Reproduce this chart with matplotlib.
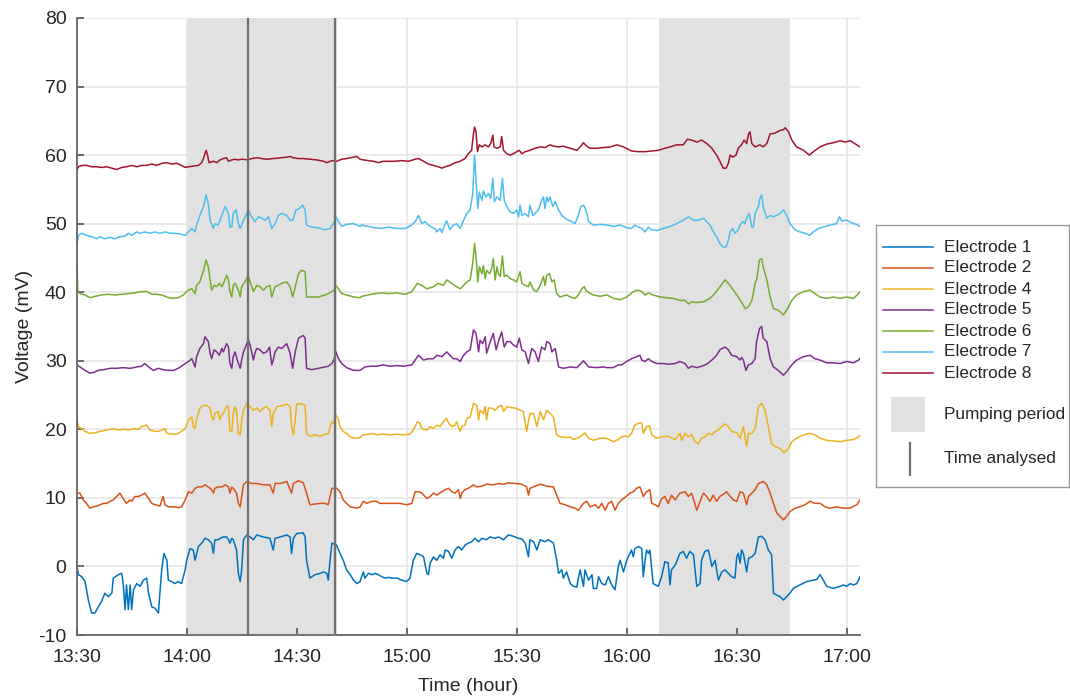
import matplotlib
matplotlib.use("Agg")
import matplotlib.pyplot as plt
from matplotlib.patches import Rectangle

plt.rcParams['font.family'] = ['Liberation Sans', 'DejaVu Sans']
plt.rcParams['axes.unicode_minus'] = False

# time axis in minutes after 13:30
tick_min = [0, 30, 60, 90, 120, 150, 180, 210]
tick_lab = ['13:30', '14:00', '14:30', '15:00', '15:30', '16:00', '16:30', '17:00']

pumping = [(30.0, 71.0), (158.8, 194.4)]
analysed = [46.5, 70.4]

names = ['Electrode 1', 'Electrode 2', 'Electrode 4', 'Electrode 5',
         'Electrode 6', 'Electrode 7', 'Electrode 8']
colors = ['#0072BD', '#D95319', '#EDB120', '#7E2F8E', '#77AC30', '#4DBEEE', '#A2142F']

# (minute, mV) samples for each electrode
e1 = [(0, 0.1), (0.4, -1.2), (1.3, -1.5), (2.2, -2.2), (3.1, -4.9), (4.0, -6.8), (4.9, -6.8), (5.8, -5.9),
      (6.7, -5.1), (7.6, -3.9), (8.5, -4.4), (9.5, -3.9), (9.9, -1.7), (11.3, -1.2), (12.2, -1.0), (12.6, -2.5),
      (13.1, -6.3), (13.5, -2.7), (14.0, -6.3), (14.5, -2.7), (14.9, -6.3), (15.4, -3.4), (16.3, -2.5),
      (17.2, -2.9), (18.1, -2.0), (19.0, -1.7), (19.5, -3.9), (20.4, -5.9), (21.3, -6.1), (22.2, -6.8),
      (22.6, -3.9), (23.1, -0.5), (23.7, 1.9), (24.5, 0.9), (24.9, -2.0), (25.8, -2.2), (26.7, -2.5),
      (27.6, -2.2), (28.5, -2.5), (29.5, -0.5), (29.9, 0.9), (30.8, 2.6), (31.7, 2.4), (32.2, 0.9), (33.1, 2.9),
      (34.0, 3.4), (34.9, 4.1), (35.8, 3.9), (36.7, 3.4), (37.2, 1.9), (37.6, 3.9), (38.5, 3.9), (39.0, 4.1),
      (39.9, 4.3), (40.8, 4.3), (41.3, 3.9), (41.7, 3.4), (42.2, 4.1), (42.6, 3.9), (43.5, 2.4), (44.0, -1.0),
      (44.5, -2.2), (44.9, -0.5), (45.4, 3.9), (46.3, 4.6), (47.2, 4.3), (48.1, 3.9), (49.0, 4.6), (50.8, 4.3),
      (52.6, 4.1), (53.5, 2.4), (54.0, 4.1), (55.4, 4.3), (57.2, 4.6), (58.1, 4.3), (58.5, 1.9), (59.0, 4.1),
      (59.9, 4.8), (61.7, 4.9), (62.2, 4.3), (62.6, 0.9), (63.5, -1.7), (64.9, -1.2), (66.3, -1.0), (67.2, -0.8),
      (68.1, -1.0), (68.5, -2.0), (69.0, 0.9), (69.5, 3.4), (70.8, 3.1), (71.7, 1.9), (72.6, 0.9), (73.5, -0.5),
      (74.5, -1.2), (75.4, -2.0), (76.3, -2.5), (77.2, -2.2), (77.6, -1.5), (78.1, -0.8), (78.5, -1.7),
      (79.5, -1.0), (80.4, -1.2), (81.3, -1.0), (82.2, -1.2), (83.1, -1.5), (84.0, -1.7), (84.9, -1.6),
      (85.8, -1.7), (87.2, -1.7), (88.5, -2.0), (89.9, -2.2), (90.8, -1.7), (91.7, 0.9), (92.6, 1.9), (93.5, 1.7),
      (94.5, 1.4), (95.4, -1.0), (95.8, -1.2), (96.3, 0.5), (97.2, 1.4), (98.1, 0.9), (99.0, 1.7), (99.9, 1.2),
      (100.4, 2.4), (101.3, 2.2), (102.2, 1.2), (103.1, 2.4), (104.0, 2.9), (104.9, 2.4), (105.8, 3.1),
      (106.7, 3.4), (107.6, 3.6), (108.5, 4.1), (109.5, 3.6), (110.4, 4.1), (111.7, 3.9), (112.6, 4.3),
      (114.0, 4.1), (114.9, 4.3), (116.3, 3.9), (117.6, 4.6), (119.0, 4.4), (120.4, 4.1), (121.3, 4.0),
      (122.2, 3.4), (123.1, 1.4), (123.5, 3.9), (124.5, 3.6), (125.4, 2.4), (126.3, 3.9), (127.6, 3.6),
      (128.5, 3.9), (129.9, 3.4), (130.8, 0.9), (131.3, -1.0), (132.2, -0.5), (132.6, -1.7), (133.5, -0.8),
      (134.5, -2.5), (135.4, -2.9), (136.3, -3.0), (136.7, -1.7), (137.2, -0.5), (138.1, -2.9), (138.5, -0.5),
      (139.5, -2.0), (140.4, -1.2), (140.8, -3.2), (141.7, -3.2), (142.2, -1.5), (143.1, -2.5), (144.0, -2.7),
      (144.9, -1.5), (145.8, -2.7), (146.7, -3.4), (147.6, 0.0), (148.1, 0.9), (149.0, -0.8), (149.9, 0.9),
      (150.3, 1.4), (151.2, 2.4), (151.7, 1.4), (152.1, 2.6), (153.1, 2.9), (154.0, 2.6), (154.4, -1.5),
      (154.9, 0.9), (155.3, 2.4), (155.8, 1.9), (156.2, 2.4), (157.1, -2.5), (158.5, -2.9), (159.4, -1.5),
      (160.3, 0.7), (161.2, 0.5), (161.7, -2.7), (162.1, -0.5), (163.1, 0.2), (163.5, 0.7), (164.4, 1.9),
      (165.3, 2.2), (166.2, 1.2), (167.1, 2.2), (168.1, 1.7), (169.0, -2.9), (169.9, -2.5), (170.3, 0.9),
      (171.2, 2.2), (172.1, 2.4), (172.6, 1.4), (173.1, 0.0), (174.0, 0.9), (174.4, -0.5), (174.9, -2.0),
      (175.8, -0.8), (176.7, -0.5), (177.6, -1.0), (178.5, -1.5), (179.4, -1.7), (179.9, 1.4), (180.3, 1.9),
      (180.8, 0.5), (181.2, 2.4), (181.7, 1.9), (182.6, -0.8), (183.1, 1.2), (184.0, 1.4), (184.9, 1.9),
      (185.8, 4.3), (186.7, 4.4), (187.6, 3.9), (188.5, 2.4), (189.4, 1.7), (189.9, -3.9), (190.8, -4.2),
      (191.7, -4.4), (192.6, -4.9), (193.5, -4.4), (194.4, -3.9), (195.3, -3.2), (197.1, -2.7), (199.0, -2.2),
      (200.8, -2.0), (201.7, -1.9), (202.6, -1.2), (203.5, -2.0), (204.4, -2.9), (206.2, -3.2), (208.1, -2.9),
      (209.0, -2.7), (209.9, -2.9), (210.8, -2.5), (211.7, -2.7), (212.6, -2.5), (213.5, -1.5)]

e2 = [(0, 10.7), (0.8, 10.7), (1.7, 9.7), (2.6, 9.2), (3.5, 8.5), (4.5, 8.7), (5.4, 8.8), (6.3, 9.0), (7.2, 9.2),
      (8.1, 9.2), (9.0, 9.5), (9.9, 9.7), (10.8, 10.2), (11.7, 10.7), (12.6, 9.9), (13.5, 9.2), (14.5, 9.7),
      (14.9, 9.5), (15.8, 10.2), (16.7, 10.2), (17.6, 10.4), (18.5, 10.7), (19.5, 9.9), (20.4, 9.2), (21.3, 9.0),
      (22.6, 8.8), (23.5, 10.2), (24.0, 9.0), (24.9, 8.7), (26.3, 8.7), (27.6, 8.6), (28.5, 8.7), (29.5, 9.7),
      (30.4, 10.9), (31.3, 10.7), (32.2, 11.4), (33.1, 11.6), (34.0, 11.6), (34.9, 11.9), (35.8, 11.6),
      (36.7, 11.2), (37.2, 10.7), (37.6, 11.4), (38.5, 11.6), (39.5, 11.6), (40.4, 11.9), (41.3, 11.6),
      (41.7, 10.7), (42.2, 11.6), (42.6, 11.4), (43.5, 10.7), (44.0, 9.2), (44.5, 8.7), (44.9, 10.2),
      (45.4, 11.9), (46.3, 12.4), (47.6, 12.1), (49.0, 12.1), (50.8, 11.9), (52.6, 11.9), (53.5, 10.7),
      (54.0, 12.1), (55.4, 12.1), (57.2, 12.4), (58.5, 10.7), (59.0, 12.1), (60.4, 12.5), (61.7, 12.2),
      (62.6, 10.7), (63.5, 9.0), (64.9, 9.1), (66.3, 9.2), (67.6, 9.2), (68.5, 9.0), (69.5, 11.4), (70.8, 11.4),
      (71.7, 10.9), (72.6, 9.7), (73.5, 9.2), (74.5, 8.7), (76.3, 8.5), (77.2, 8.7), (78.1, 9.5), (79.0, 9.2),
      (80.4, 9.5), (81.7, 9.5), (82.6, 9.2), (84.5, 9.2), (86.3, 9.2), (88.1, 9.2), (89.9, 9.0), (91.3, 9.2),
      (92.2, 10.9), (93.1, 10.9), (94.0, 10.7), (95.4, 9.9), (96.3, 10.2), (97.2, 10.7), (98.1, 10.4),
      (99.5, 10.9), (100.4, 11.2), (101.3, 11.4), (102.2, 10.9), (103.1, 10.7), (104.0, 11.2), (104.5, 9.9),
      (104.9, 10.7), (105.8, 11.2), (106.7, 11.4), (108.1, 11.9), (109.0, 11.6), (110.4, 11.7), (111.7, 12.0),
      (113.5, 11.9), (114.9, 12.1), (116.3, 12.0), (117.6, 12.2), (119.5, 12.1), (121.3, 12.0), (122.6, 11.6),
      (123.1, 10.4), (123.5, 11.4), (124.9, 11.7), (126.3, 12.0), (128.1, 11.7), (129.9, 11.6), (130.8, 10.4),
      (131.7, 9.2), (133.1, 9.0), (134.5, 8.7), (135.8, 8.5), (136.7, 8.2), (138.1, 9.2), (139.0, 9.5),
      (139.9, 8.7), (141.3, 9.0), (142.2, 8.5), (143.1, 9.2), (144.0, 8.2), (144.9, 9.2), (145.8, 9.5),
      (146.7, 8.2), (147.6, 9.2), (148.5, 9.7), (149.5, 10.1), (150.8, 10.7), (151.7, 10.9), (152.6, 11.4),
      (153.5, 11.6), (154.4, 10.2), (155.3, 10.9), (156.2, 11.2), (156.7, 9.2), (157.6, 9.0), (158.5, 8.7),
      (159.4, 9.9), (160.3, 10.2), (161.2, 9.2), (162.1, 10.4), (163.1, 9.7), (164.4, 10.7), (165.8, 10.9),
      (166.7, 10.2), (167.6, 10.7), (169.0, 8.2), (169.9, 9.5), (170.8, 10.7), (171.7, 10.2), (172.6, 9.5),
      (173.5, 10.4), (174.4, 9.5), (175.3, 10.2), (176.7, 10.7), (177.1, 10.9), (178.1, 10.2), (179.0, 9.7),
      (179.9, 9.5), (180.8, 10.9), (181.7, 10.7), (182.6, 9.0), (183.1, 10.2), (184.0, 10.7), (184.9, 11.2),
      (185.8, 12.1), (187.1, 12.4), (188.1, 11.9), (189.0, 10.7), (189.9, 9.2), (190.8, 7.8), (191.7, 7.3),
      (192.6, 6.8), (193.5, 7.3), (194.4, 8.0), (195.8, 8.5), (197.1, 8.7), (198.5, 9.0), (199.9, 9.5),
      (201.2, 9.2), (202.6, 9.2), (204.0, 8.7), (205.3, 8.5), (207.1, 8.7), (209.0, 8.5), (210.8, 8.5),
      (212.6, 9.0), (213.5, 9.7)]

e4 = [(0, 21.4), (0.4, 20.4), (1.3, 20.1), (2.2, 19.7), (3.5, 19.4), (4.9, 19.5), (6.3, 19.7), (8.1, 19.9),
      (9.9, 20.1), (11.3, 19.9), (12.6, 20.0), (14.0, 19.9), (15.4, 20.1), (16.7, 20.0), (17.6, 20.4),
      (19.0, 20.6), (19.9, 19.9), (21.3, 19.7), (22.2, 19.7), (23.1, 19.9), (24.0, 20.1), (24.5, 19.4),
      (25.8, 19.3), (27.2, 19.3), (28.5, 19.7), (29.5, 20.1), (30.4, 21.4), (31.3, 21.8), (31.7, 20.4),
      (32.2, 20.1), (32.6, 21.4), (33.5, 23.1), (34.5, 23.5), (35.4, 23.5), (36.3, 23.1), (36.7, 21.8),
      (37.2, 21.4), (37.6, 22.3), (38.5, 22.6), (39.0, 21.4), (39.5, 22.1), (39.9, 22.3), (40.8, 23.4),
      (41.3, 23.3), (41.7, 19.7), (42.2, 19.7), (42.6, 22.3), (43.1, 23.3), (43.5, 22.8), (44.0, 19.4),
      (44.5, 19.2), (44.9, 21.4), (45.4, 22.8), (46.3, 23.8), (47.2, 23.3), (48.1, 22.8), (49.0, 23.1),
      (49.9, 22.6), (50.8, 23.1), (51.7, 23.3), (52.6, 22.8), (53.1, 20.4), (53.5, 22.3), (54.5, 23.3),
      (55.4, 23.4), (56.3, 23.5), (57.2, 23.7), (58.1, 23.3), (58.5, 20.4), (59.0, 19.2), (59.5, 21.4),
      (59.9, 23.7), (61.2, 23.7), (62.2, 23.5), (62.6, 19.4), (63.5, 19.0), (64.9, 19.2), (66.3, 19.0),
      (67.6, 19.3), (68.5, 19.3), (69.0, 20.4), (69.5, 21.1), (69.9, 20.9), (70.6, 22.1), (71.3, 21.4),
      (71.7, 20.4), (72.6, 19.7), (73.5, 19.4), (74.5, 18.9), (75.8, 18.7), (77.2, 18.8), (78.1, 19.2),
      (79.9, 19.3), (80.8, 19.4), (81.7, 19.2), (83.5, 19.3), (85.4, 19.2), (87.2, 19.3), (89.0, 19.2),
      (90.8, 19.3), (91.7, 19.9), (92.8, 21.1), (93.5, 20.9), (94.0, 20.1), (95.4, 19.9), (96.3, 20.4),
      (97.2, 20.1), (98.1, 20.6), (99.0, 20.4), (99.9, 21.1), (100.8, 21.6), (101.3, 20.9), (102.2, 20.4),
      (103.1, 20.6), (103.5, 21.1), (104.5, 19.7), (104.9, 20.4), (105.8, 20.6), (106.3, 21.6), (107.2, 21.8),
      (108.1, 23.8), (109.0, 23.5), (109.5, 21.4), (109.9, 22.8), (110.8, 22.3), (111.3, 23.3), (111.7, 21.4),
      (112.2, 23.1), (113.1, 23.1), (114.0, 22.8), (114.9, 23.3), (115.8, 23.5), (116.3, 22.6), (117.2, 23.3),
      (118.1, 23.2), (119.5, 23.1), (120.8, 22.8), (121.7, 22.6), (122.6, 19.7), (123.5, 22.3), (124.5, 22.3),
      (125.4, 20.4), (126.3, 22.6), (127.2, 21.4), (128.1, 22.8), (129.0, 22.3), (129.9, 21.8), (130.8, 19.2),
      (131.7, 18.9), (132.6, 18.9), (133.5, 18.8), (134.5, 18.9), (135.4, 18.5), (137.2, 18.9), (138.5, 19.5),
      (139.5, 18.7), (140.8, 18.4), (142.6, 18.7), (144.4, 18.7), (146.2, 18.2), (147.6, 18.5), (148.5, 18.9),
      (149.4, 19.0), (150.3, 18.9), (151.2, 19.4), (152.1, 20.6), (153.1, 20.9), (154.0, 20.9), (154.4, 19.4),
      (155.3, 20.4), (156.1, 20.5), (156.7, 19.2), (158.1, 18.7), (159.4, 18.9), (161.2, 19.0), (163.1, 18.5),
      (164.4, 19.4), (164.9, 18.4), (165.8, 19.4), (166.7, 18.9), (167.6, 19.2), (168.5, 18.2), (169.4, 17.9),
      (170.3, 18.7), (171.2, 18.9), (172.1, 19.4), (173.1, 19.2), (174.0, 19.7), (174.9, 19.9), (175.8, 20.4),
      (176.7, 20.8), (177.6, 20.4), (178.5, 19.7), (179.9, 19.5), (180.8, 18.7), (181.7, 20.4), (182.6, 17.5),
      (183.1, 19.4), (184.0, 19.4), (184.9, 20.1), (185.8, 23.3), (186.7, 23.8), (187.6, 22.8), (188.5, 20.4),
      (189.4, 17.9), (190.3, 17.5), (191.7, 17.2), (192.8, 16.6), (194.0, 17.2), (194.9, 18.2), (196.2, 18.7),
      (198.1, 19.2), (199.9, 19.4), (201.2, 19.2), (202.6, 18.7), (204.4, 18.4), (206.2, 18.3), (208.1, 18.2),
      (209.9, 18.4), (211.7, 18.5), (213.1, 18.9), (214.0, 19.4)]

e5 = [(0, 29.4), (0.8, 29.1), (2.2, 28.6), (3.5, 28.2), (4.5, 28.3), (5.8, 28.6), (7.2, 28.7), (9.0, 28.9),
      (10.8, 28.9), (12.6, 29.0), (14.5, 28.9), (16.3, 29.1), (17.6, 29.2), (18.5, 29.6), (19.5, 29.1),
      (20.8, 28.6), (22.2, 28.9), (23.5, 28.7), (24.9, 28.6), (26.3, 28.6), (27.6, 28.9), (29.0, 29.4),
      (30.4, 29.9), (31.3, 30.3), (32.2, 29.1), (32.6, 30.6), (33.5, 31.8), (34.5, 32.5), (34.9, 33.5),
      (35.8, 32.8), (36.3, 31.1), (36.7, 30.3), (37.4, 31.6), (38.1, 31.3), (38.8, 30.8), (39.5, 31.8),
      (39.9, 31.3), (40.8, 32.5), (41.3, 32.0), (41.7, 29.6), (42.2, 28.9), (42.6, 30.6), (43.1, 31.3),
      (43.7, 30.1), (44.5, 28.9), (44.9, 30.1), (45.4, 31.3), (46.3, 32.5), (46.7, 33.1), (47.2, 32.3),
      (48.1, 30.1), (48.5, 31.1), (49.0, 31.8), (49.9, 31.6), (50.8, 31.1), (51.7, 31.3), (52.5, 32.0),
      (53.1, 29.4), (53.5, 30.1), (54.0, 31.3), (54.9, 32.0), (55.8, 31.8), (57.2, 32.5), (58.1, 31.1),
      (58.8, 28.9), (59.5, 31.3), (60.4, 33.3), (61.7, 33.7), (62.2, 33.3), (62.6, 28.9), (64.0, 28.7),
      (65.8, 28.9), (67.6, 29.1), (68.5, 29.2), (69.5, 29.6), (70.1, 30.2), (70.6, 31.3), (71.3, 30.3),
      (72.2, 29.6), (73.5, 29.0), (75.4, 28.6), (77.2, 28.6), (78.5, 29.1), (79.9, 29.2), (81.7, 29.2),
      (83.5, 29.4), (85.4, 29.2), (87.2, 29.3), (89.0, 29.2), (91.3, 29.4), (92.2, 30.1), (93.1, 30.8),
      (93.5, 30.6), (94.5, 30.1), (95.8, 30.3), (97.2, 30.3), (98.1, 30.8), (99.5, 30.6), (100.8, 31.3),
      (101.7, 30.8), (102.6, 30.3), (103.5, 30.3), (104.5, 29.9), (105.4, 30.8), (106.3, 31.3), (107.2, 31.6),
      (108.1, 34.5), (108.8, 34.0), (109.5, 31.3), (109.9, 33.0), (110.6, 32.5), (111.3, 33.5), (111.7, 31.1),
      (112.5, 32.5), (113.5, 34.0), (114.3, 31.6), (114.9, 32.8), (115.8, 34.2), (116.5, 32.0), (117.2, 32.8),
      (118.1, 32.8), (119.0, 32.3), (119.9, 32.0), (120.6, 33.3), (121.3, 31.6), (122.2, 31.3), (123.1, 29.6),
      (123.5, 30.6), (124.0, 31.8), (124.9, 31.3), (125.8, 29.9), (126.7, 32.0), (127.6, 31.6), (128.1, 32.8),
      (129.0, 32.5), (129.5, 31.3), (130.4, 31.8), (131.3, 29.1), (132.6, 28.9), (134.5, 29.1), (136.3, 29.0),
      (138.1, 30.0), (139.5, 29.1), (141.7, 29.0), (143.5, 29.1), (144.4, 29.0), (146.2, 29.0), (147.6, 29.4),
      (148.5, 29.4), (149.9, 29.9), (151.2, 30.3), (152.6, 30.6), (153.5, 30.8), (154.0, 30.1), (154.9, 29.9),
      (155.8, 30.3), (156.7, 29.9), (158.1, 29.6), (159.9, 29.6), (161.2, 29.5), (163.1, 29.6), (164.4, 29.9),
      (165.8, 29.6), (166.7, 28.9), (167.6, 29.2), (169.0, 29.0), (170.3, 29.2), (171.7, 29.5), (173.1, 30.1),
      (174.4, 30.8), (175.3, 31.6), (176.7, 32.0), (177.6, 31.6), (178.5, 30.8), (179.9, 30.6), (180.8, 30.1),
      (181.2, 30.5), (181.7, 30.1), (182.4, 28.6), (183.1, 29.4), (184.0, 29.6), (184.9, 30.3), (185.3, 32.8),
      (186.1, 34.7), (186.7, 35.0), (187.1, 33.3), (188.1, 32.8), (189.0, 30.3), (189.9, 29.1), (191.2, 28.6),
      (192.6, 27.9), (193.5, 28.4), (194.9, 29.4), (196.2, 30.1), (198.1, 30.6), (199.9, 30.8), (201.2, 30.3),
      (202.6, 30.1), (204.4, 29.7), (206.2, 29.7), (208.1, 29.6), (209.9, 29.9), (211.7, 29.7), (213.1, 30.1),
      (214.0, 30.7)]

e6 = [(0, 44.5), (0.2, 40.1), (0.8, 39.8), (2.2, 39.6), (3.5, 39.2), (4.9, 39.4), (6.7, 39.6), (8.5, 39.7),
      (10.4, 39.6), (12.2, 39.7), (14.0, 39.8), (15.8, 39.9), (17.6, 40.1), (19.0, 40.1), (20.4, 39.7),
      (21.7, 39.7), (23.1, 39.6), (24.5, 39.3), (25.8, 39.1), (27.6, 39.2), (29.0, 39.6), (29.9, 40.1),
      (30.4, 40.3), (31.3, 40.5), (32.2, 39.8), (32.6, 41.0), (33.5, 41.5), (34.5, 43.2), (35.2, 44.7),
      (35.8, 43.7), (36.3, 41.8), (36.7, 40.3), (37.4, 41.0), (38.1, 40.8), (38.8, 41.3), (39.5, 40.8),
      (40.1, 41.5), (40.8, 42.5), (41.3, 41.8), (41.7, 40.1), (42.2, 39.3), (42.6, 41.0), (43.1, 41.3),
      (44.0, 40.3), (44.5, 39.3), (44.9, 40.8), (45.8, 41.5), (46.7, 42.5), (47.2, 41.5), (48.1, 40.1),
      (49.0, 41.0), (49.9, 40.8), (50.8, 40.3), (51.7, 40.8), (52.6, 41.0), (53.1, 39.3), (54.0, 40.8),
      (54.9, 41.0), (55.8, 41.3), (57.2, 41.5), (58.1, 40.8), (58.8, 39.3), (59.5, 40.8), (60.4, 42.7),
      (61.2, 43.2), (62.2, 43.0), (62.6, 39.3), (64.0, 39.3), (65.8, 39.3), (67.6, 39.6), (68.5, 39.8),
      (69.5, 40.1), (70.1, 40.3), (70.6, 41.0), (71.3, 40.5), (72.2, 39.8), (73.5, 39.6), (75.4, 39.3),
      (77.2, 39.2), (77.6, 39.4), (79.5, 39.6), (81.3, 39.8), (83.1, 39.9), (84.9, 39.8), (87.2, 39.9),
      (89.5, 39.7), (91.3, 40.1), (92.8, 41.3), (94.0, 41.0), (95.4, 40.5), (97.2, 40.8), (98.5, 41.3),
      (99.9, 41.0), (100.8, 41.8), (102.2, 41.3), (103.5, 40.8), (104.5, 40.5), (105.4, 41.0), (106.3, 41.5),
      (107.2, 41.8), (107.9, 44.2), (108.4, 47.1), (108.8, 45.2), (109.3, 41.5), (109.7, 43.7), (110.4, 42.7),
      (110.8, 43.9), (111.3, 42.0), (111.7, 43.2), (112.5, 42.7), (113.1, 43.5), (113.5, 44.9), (114.0, 41.8),
      (114.5, 43.7), (114.9, 42.7), (115.4, 42.3), (116.0, 45.3), (116.5, 42.3), (117.2, 42.5), (118.1, 42.0),
      (119.0, 41.8), (119.9, 41.5), (120.8, 43.0), (121.3, 41.3), (122.2, 41.0), (123.1, 40.8), (123.5, 41.5),
      (124.5, 40.3), (125.4, 40.1), (126.3, 41.0), (127.2, 42.3), (127.6, 41.0), (128.1, 42.5), (128.8, 42.7),
      (129.5, 41.5), (130.1, 41.8), (130.8, 39.8), (131.7, 39.3), (133.5, 39.6), (134.5, 39.3), (135.8, 39.1),
      (136.7, 39.6), (137.6, 40.5), (138.3, 40.8), (139.0, 40.1), (140.8, 39.6), (142.6, 39.4), (144.5, 39.6),
      (146.3, 39.1), (148.1, 38.9), (149.9, 39.3), (151.7, 40.1), (153.1, 40.3), (154.0, 40.1), (154.9, 39.6),
      (155.8, 39.9), (157.1, 39.6), (159.0, 39.3), (160.8, 39.2), (162.6, 39.1), (164.4, 38.8), (165.8, 38.8),
      (166.7, 38.3), (167.6, 38.6), (169.0, 38.5), (170.8, 38.6), (172.6, 39.1), (173.9, 39.8), (175.3, 40.8),
      (176.7, 41.8), (177.6, 41.3), (179.0, 40.3), (180.3, 39.3), (181.7, 38.1), (182.2, 37.6), (183.1, 37.9),
      (184.0, 38.8), (184.4, 39.8), (184.9, 41.3), (185.3, 41.8), (186.1, 44.7), (186.7, 44.9), (187.1, 43.7),
      (188.1, 41.8), (189.0, 39.3), (189.9, 37.6), (191.2, 37.4), (192.6, 36.7), (193.5, 37.4), (194.9, 38.8),
      (196.2, 39.6), (198.1, 40.1), (199.9, 40.3), (201.2, 39.8), (202.6, 39.3), (204.4, 39.1), (206.2, 39.3),
      (208.1, 39.1), (209.9, 39.3), (211.7, 39.1), (213.1, 39.8), (214.0, 40.4)]

e7 = [(0, 47.1), (0.4, 48.3), (1.3, 48.6), (2.6, 48.3), (4.0, 48.1), (5.4, 47.8), (6.3, 48.1), (7.6, 47.8),
      (9.0, 48.0), (10.4, 47.8), (11.7, 48.1), (13.1, 48.2), (14.0, 48.6), (14.9, 48.3), (16.3, 48.8),
      (17.2, 48.6), (18.5, 48.8), (19.9, 48.6), (21.3, 48.8), (22.6, 48.6), (24.0, 48.8), (25.4, 48.6),
      (26.7, 48.6), (28.1, 48.5), (29.5, 48.3), (30.4, 48.8), (31.3, 49.3), (32.2, 48.8), (32.6, 49.8),
      (33.5, 51.2), (34.5, 52.5), (35.2, 54.2), (35.8, 52.9), (36.3, 50.5), (37.2, 49.3), (37.6, 50.0),
      (38.5, 49.8), (39.5, 51.2), (40.4, 52.5), (41.3, 51.5), (41.7, 49.5), (42.2, 49.5), (42.6, 51.5),
      (43.4, 52.0), (44.0, 50.0), (44.5, 49.3), (45.4, 50.5), (46.3, 51.5), (46.7, 52.0), (47.6, 51.0),
      (48.5, 50.3), (49.5, 51.0), (50.4, 50.8), (51.3, 50.5), (52.2, 51.0), (53.1, 49.3), (54.0, 50.0),
      (54.9, 51.2), (55.8, 51.5), (57.2, 51.2), (58.1, 50.5), (58.8, 50.5), (59.7, 52.0), (60.6, 52.2),
      (61.5, 52.7), (62.2, 52.0), (62.6, 49.8), (64.0, 49.5), (65.8, 49.4), (67.6, 49.1), (69.0, 49.3),
      (69.9, 50.0), (70.6, 51.0), (71.3, 50.3), (72.2, 49.6), (73.5, 49.9), (75.4, 50.0), (77.2, 49.6),
      (77.6, 49.8), (79.5, 49.6), (81.3, 49.4), (83.1, 49.3), (84.9, 49.5), (87.2, 49.3), (89.5, 49.3),
      (91.3, 49.8), (92.2, 50.3), (93.1, 51.2), (94.0, 50.0), (94.9, 50.3), (95.8, 49.8), (96.7, 49.5),
      (97.6, 49.3), (98.1, 48.8), (99.0, 49.3), (99.5, 48.7), (100.4, 50.0), (100.8, 50.4), (101.7, 49.1),
      (102.6, 49.8), (103.5, 50.0), (104.5, 49.3), (105.4, 50.5), (106.3, 51.5), (107.2, 52.0), (107.9, 54.4),
      (108.4, 60.0), (108.8, 56.3), (109.3, 52.2), (109.7, 54.6), (110.4, 53.4), (110.8, 54.8), (111.5, 53.9),
      (112.2, 54.4), (112.8, 53.7), (113.4, 56.6), (113.8, 53.2), (114.5, 53.9), (115.4, 53.4), (116.0, 56.6),
      (116.5, 53.4), (117.2, 52.5), (118.1, 51.7), (119.0, 51.5), (119.9, 52.0), (120.4, 51.0), (120.8, 52.7),
      (121.3, 51.2), (122.2, 51.5), (123.1, 51.0), (123.5, 52.7), (124.3, 51.2), (124.9, 51.5), (125.8, 52.0),
      (126.7, 53.4), (127.2, 53.9), (127.6, 52.2), (128.1, 53.9), (128.5, 53.2), (129.0, 53.9), (129.7, 52.5),
      (130.4, 53.2), (131.3, 52.0), (132.2, 51.2), (133.1, 50.8), (134.0, 50.5), (134.9, 50.3), (135.8, 50.0),
      (136.7, 51.2), (137.4, 52.5), (138.1, 52.7), (138.8, 52.0), (139.5, 50.3), (140.8, 49.8), (142.6, 49.9),
      (144.5, 49.8), (146.3, 49.6), (148.1, 49.8), (149.9, 49.4), (151.2, 49.3), (152.1, 49.8), (153.1, 49.5),
      (154.0, 49.3), (154.9, 48.8), (155.8, 49.5), (156.7, 49.1), (158.1, 49.0), (159.9, 49.3), (161.7, 49.6),
      (163.5, 50.0), (165.3, 50.5), (166.7, 51.0), (168.1, 50.5), (169.4, 50.5), (170.8, 50.8), (171.7, 50.3),
      (172.6, 49.8), (173.5, 48.8), (174.4, 48.1), (175.3, 47.1), (176.2, 46.6), (177.0, 46.6), (177.6, 47.6),
      (178.1, 48.8), (178.8, 49.3), (179.4, 48.6), (180.3, 49.1), (180.8, 49.8), (181.5, 50.3), (182.1, 50.0),
      (182.6, 50.8), (183.3, 51.5), (184.0, 49.5), (184.4, 49.5), (184.9, 51.5), (185.8, 52.5), (186.2, 53.7),
      (186.7, 54.2), (187.1, 52.5), (188.1, 50.8), (189.0, 51.2), (189.9, 51.0), (190.8, 51.2), (191.7, 51.5),
      (192.6, 52.0), (193.5, 51.2), (194.4, 50.0), (195.8, 49.1), (197.1, 48.8), (198.5, 48.6), (199.7, 48.3),
      (200.8, 48.8), (202.1, 49.3), (203.5, 49.5), (205.3, 49.8), (207.1, 50.0), (207.9, 51.0), (208.5, 50.4),
      (209.9, 50.5), (211.2, 50.1), (212.6, 49.9), (213.5, 49.6)]

e8 = [(0, 57.8), (0.4, 58.3), (1.3, 58.5), (2.6, 58.5), (4.0, 58.3), (5.4, 58.3), (6.7, 58.2), (8.1, 58.3),
      (9.5, 58.1), (10.8, 57.9), (12.2, 58.2), (13.5, 58.3), (14.9, 58.5), (16.3, 58.3), (17.6, 58.5),
      (19.0, 58.5), (20.4, 58.7), (21.7, 58.5), (23.1, 58.8), (24.5, 58.9), (25.8, 58.7), (27.2, 58.8),
      (28.5, 58.5), (29.5, 58.2), (30.4, 58.3), (31.7, 58.4), (33.1, 58.5), (34.0, 58.9), (34.6, 59.7),
      (35.2, 60.7), (35.6, 60.0), (36.0, 58.9), (37.2, 59.1), (38.1, 58.9), (39.0, 59.3), (39.9, 59.5),
      (40.8, 59.6), (41.3, 59.1), (42.2, 59.3), (43.1, 59.4), (44.0, 59.3), (44.9, 59.4), (46.7, 59.3),
      (47.6, 59.5), (49.0, 59.6), (50.4, 59.5), (51.7, 59.4), (53.5, 59.5), (55.4, 59.6), (57.2, 59.7),
      (58.1, 59.8), (59.0, 59.6), (60.4, 59.5), (61.7, 59.5), (63.5, 59.4), (65.4, 59.3), (67.2, 59.1),
      (68.1, 58.9), (69.5, 59.2), (70.8, 59.1), (72.2, 59.4), (73.5, 59.5), (75.4, 59.7), (76.3, 59.8),
      (77.2, 59.4), (78.1, 59.3), (79.5, 59.2), (80.8, 59.1), (82.2, 58.9), (83.5, 59.1), (84.9, 59.1),
      (86.7, 59.1), (88.5, 59.2), (90.4, 59.1), (92.2, 59.4), (93.1, 59.5), (94.5, 59.1), (95.8, 58.7),
      (97.2, 58.5), (98.5, 58.3), (99.5, 58.1), (100.4, 58.3), (101.7, 58.5), (103.1, 58.9), (104.5, 59.1),
      (105.8, 59.5), (106.7, 60.2), (107.6, 60.7), (108.1, 63.1), (108.4, 64.1), (108.8, 63.4), (109.2, 60.5),
      (109.7, 61.5), (110.4, 61.2), (111.3, 61.5), (112.2, 61.2), (112.8, 61.7), (113.4, 62.9), (113.7, 61.2),
      (114.5, 61.0), (115.4, 61.2), (115.8, 62.7), (116.3, 60.7), (117.2, 60.2), (118.1, 60.0), (119.0, 60.2),
      (119.9, 60.5), (120.6, 60.7), (121.3, 60.2), (122.2, 60.5), (123.5, 60.7), (124.9, 61.0), (126.3, 61.2),
      (127.6, 61.1), (129.0, 61.5), (129.9, 61.3), (131.3, 61.2), (132.6, 61.3), (134.5, 61.0), (136.3, 60.7),
      (137.2, 61.2), (138.1, 61.8), (139.0, 61.3), (139.9, 61.0), (141.7, 61.0), (143.5, 61.1), (145.4, 61.2),
      (147.2, 61.5), (149.0, 61.2), (150.8, 60.7), (151.2, 60.6), (153.1, 60.5), (154.9, 60.5), (156.7, 60.6),
      (158.5, 60.7), (160.3, 61.0), (161.7, 61.2), (163.5, 61.5), (165.3, 61.5), (166.4, 62.3), (167.6, 62.2),
      (169.0, 61.9), (170.3, 62.2), (171.7, 61.7), (173.1, 61.0), (174.4, 60.0), (175.3, 59.1), (176.2, 58.1),
      (177.0, 58.1), (177.6, 58.8), (178.1, 60.0), (178.8, 59.7), (179.7, 60.0), (180.3, 61.0), (181.2, 61.5),
      (181.9, 62.2), (182.6, 61.7), (183.1, 63.1), (183.5, 63.4), (184.0, 61.7), (184.9, 61.2), (186.2, 61.5),
      (187.1, 61.2), (188.1, 61.7), (189.0, 63.1), (190.3, 63.2), (191.7, 63.6), (192.6, 63.7), (193.1, 64.0),
      (194.0, 63.4), (194.9, 62.2), (196.2, 61.2), (198.1, 60.7), (199.7, 60.0), (200.8, 60.5), (202.6, 61.2),
      (204.4, 61.6), (206.2, 61.8), (208.1, 62.1), (209.4, 61.9), (210.8, 62.1), (212.6, 61.5), (213.5, 61.2)]

series = [e1, e2, e4, e5, e6, e7, e8]

fig = plt.figure(figsize=(10.70, 6.98), dpi=100)
ax = fig.add_axes([77 / 1070, 1 - 635 / 698, 783 / 1070, 617 / 698])

for start, end in pumping:
    ax.axvspan(start, end, color='#e1e1e1', lw=0, zorder=0.2)

for data, c, name in zip(series, colors, names):
    t = [p[0] for p in data]
    v = [p[1] for p in data]
    ax.plot(t, v, color=c, lw=1.1, label=name, zorder=2)

for t in analysed:
    ax.axvline(t, color='#707070', lw=1.6, zorder=3)

ax.set_xlim(0, 213.5)
ax.set_ylim(-10, 80)
ax.set_xticks(tick_min)
ax.set_xticklabels(tick_lab)
ax.set_yticks(range(-10, 81, 10))
ax.set_axisbelow(True)
ax.grid(True, color='#e4e4e4', lw=1.1)
ax.tick_params(direction='in', length=5, width=1.2, colors='#555555',
               labelcolor='#262626', labelsize=14)
ax.tick_params(axis='x', pad=10)
ax.tick_params(axis='y', pad=7.5)
for side in ['top', 'right']:
    ax.spines[side].set_visible(False)
for side in ['left', 'bottom']:
    ax.spines[side].set_color('#666666')
    ax.spines[side].set_linewidth(1.3)
ax.set_xlabel('Time (hour)', fontsize=14, color='#262626', labelpad=8.5)
ax.set_ylabel('Voltage (mV)', fontsize=14, color='#262626', labelpad=4)

# legend panel, laid out in pixel units
lg = fig.add_axes([876 / 1070, 1 - 487 / 698, 193 / 1070, 262 / 698])
lg.set_xlim(0, 193)
lg.set_ylim(262, 0)
lg.set_xticks([])
lg.set_yticks([])
for s in lg.spines.values():
    s.set_color('#9a9a9a')
    s.set_linewidth(1.0)
for i, (c, name) in enumerate(zip(colors, names)):
    y = 22 + 21 * i
    lg.plot([7, 57], [y, y], color=c, lw=1.1)
    lg.text(68, y, name, fontsize=12.4, va='center', ha='left', color='#262626')
lg.add_patch(Rectangle((15, 172), 34, 35, color='#e1e1e1', lw=0))
lg.text(68, 190, 'Pumping period', fontsize=12.4, va='center', ha='left', color='#262626')
lg.plot([34, 34], [218, 250], color='#707070', lw=1.6)
lg.text(68, 234, 'Time analysed', fontsize=12.4, va='center', ha='left', color='#262626')

fig.savefig('out.png', dpi=100)
